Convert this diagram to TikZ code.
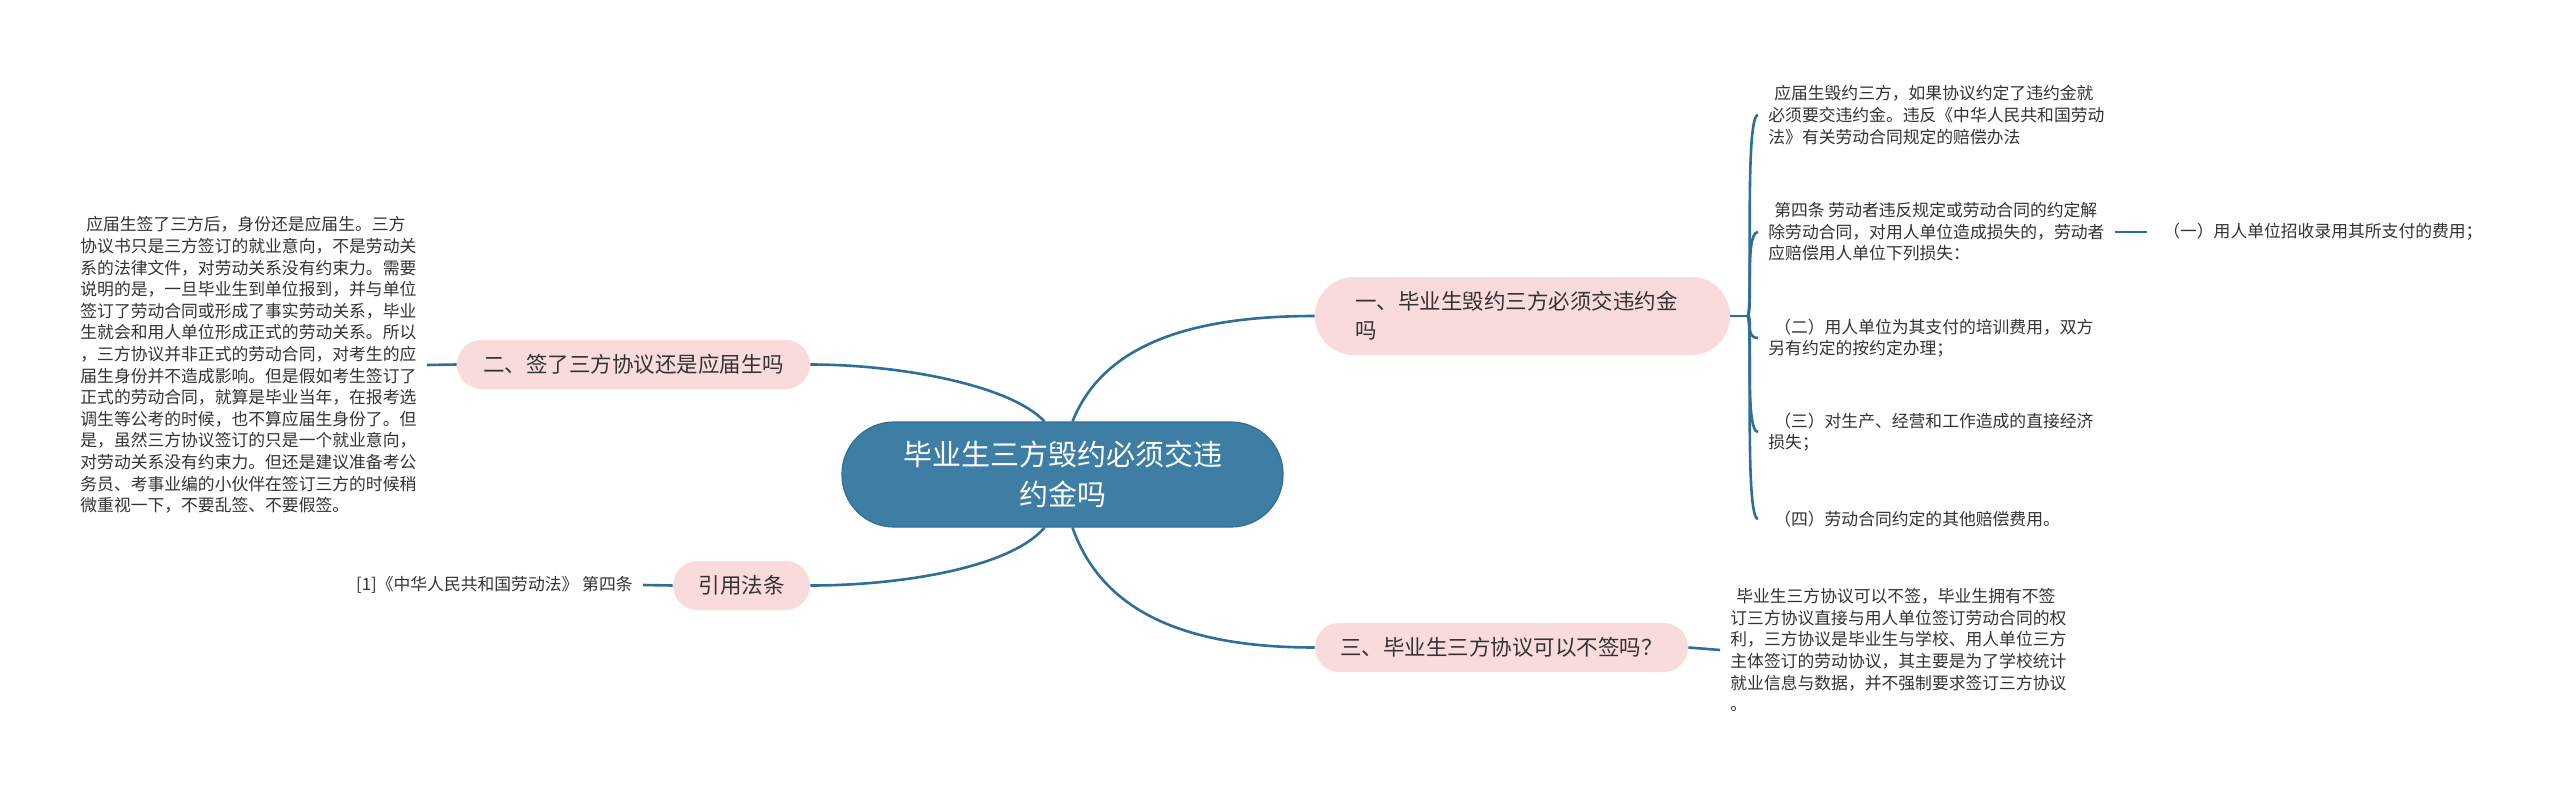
\documentclass[tikz,border=0pt]{standalone}
\usepackage{fontspec}
\setmainfont{Noto Sans CJK SC}
\usetikzlibrary{calc}
\definecolor{lineblue}{HTML}{2F6E96}
\definecolor{centerblue}{HTML}{3E7EA5}
\definecolor{pinkfill}{HTML}{FADBDB}
\definecolor{txt}{HTML}{333333}
\newcommand{\ls}{\hspace*{.35em}}
\begin{document}
\begin{tikzpicture}[x=0.5pt,y=-0.5pt,
  conn/.style={draw=lineblue, line width=1.3pt},
  centernode/.style={fill=centerblue, draw=lineblue, line width=0.6pt, rounded corners=26pt,
    minimum width=220.5pt, minimum height=52.5pt, inner sep=0pt, align=center, text=white,
    font=\fontsize{14.5pt}{20pt}\selectfont},
  branch/.style={fill=pinkfill, rounded corners=12.2pt, inner sep=0pt, minimum height=24.5pt,
    align=center, text=txt, font=\fontsize{10.75pt}{14.5pt}\selectfont},
  leaf/.style={inner xsep=5pt, inner ysep=0pt, align=left, text=txt,
    font=\fontsize{8.4pt}{10.8pt}\selectfont}
]
\useasboundingbox (0,0) rectangle (2560,793);
\fill[white] (0,0) rectangle (2560,793);

% central
\node[centernode] (c) at (1062.5,474.5) {毕业生三方毁约必须交违\\约金吗};

% branches
\node[branch, minimum width=207.5pt, minimum height=39pt, rounded corners=19.4pt,
  inner xsep=20pt, text width=167.5pt, align=left] (b1) at (1522.5,316) {一、毕业生毁约三方必须交违约金\\吗};
\node[branch, minimum width=176.5pt] (b2) at (633.5,364.5) {二、签了三方协议还是应届生吗};
\node[branch, minimum width=68.5pt] (b4) at (741.5,585.5) {引用法条};
\node[branch, minimum width=186.5pt] (b3) at (1501.5,647.5) {三、毕业生三方协议可以不签吗？};

% left leaf
\node[leaf, anchor=west] (L) at (70,365) {\ls 应届生签了三方后，身份还是应届生。三方\\
协议书只是三方签订的就业意向，不是劳动关\\
系的法律文件，对劳动关系没有约束力。需要\\
说明的是，一旦毕业生到单位报到，并与单位\\
签订了劳动合同或形成了事实劳动关系，毕业\\
生就会和用人单位形成正式的劳动关系。所以\\
，三方协议并非正式的劳动合同，对考生的应\\
届生身份并不造成影响。但是假如考生签订了\\
正式的劳动合同，就算是毕业当年，在报考选\\
调生等公考的时候，也不算应届生身份了。但\\
是，虽然三方协议签订的只是一个就业意向，\\
对劳动关系没有约束力。但还是建议准备考公\\
务员、考事业编的小伙伴在签订三方的时候稍\\
微重视一下，不要乱签、不要假签。};

\node[leaf, anchor=east] (ref) at (643,585) {[1]《中华人民共和国劳动法》 第四条};

% right leaves of branch 1
\node[leaf, anchor=west] (r1) at (1758,115) {\ls 应届生毁约三方，如果协议约定了违约金就\\
必须要交违约金。违反《中华人民共和国劳动\\
法》有关劳动合同规定的赔偿办法};
\node[leaf, anchor=west] (r2) at (1758,232) {\ls 第四条 劳动者违反规定或劳动合同的约定解\\
除劳动合同，对用人单位造成损失的，劳动者\\
应赔偿用人单位下列损失：};
\node[leaf, anchor=west] (r2a) at (2147,232) {\ls（一）用人单位招收录用其所支付的费用；};
\node[leaf, anchor=west] (r3) at (1758,338) {\ls（二）用人单位为其支付的培训费用，双方\\
另有约定的按约定办理；};
\node[leaf, anchor=west] (r4) at (1758,432) {\ls（三）对生产、经营和工作造成的直接经济\\
损失；};
\node[leaf, anchor=west] (r5) at (1758,519) {\ls（四）劳动合同约定的其他赔偿费用。};

% leaf of branch 3
\node[leaf, anchor=west] (r6) at (1720,650) {\ls 毕业生三方协议可以不签，毕业生拥有不签\\
订三方协议直接与用人单位签订劳动合同的权\\
利，三方协议是毕业生与学校、用人单位三方\\
主体签订的劳动协议，其主要是为了学校统计\\
就业信息与数据，并不强制要求签订三方协议\\
。};

% central connectors
\draw[conn] ($(c.north)+(5pt,0)$) .. controls (1105,340) and (1200,316) .. (b1.west);
\draw[conn] ($(c.north)+(-9pt,0)$) .. controls (1010,385) and (900,364.5) .. (b2.east);
\draw[conn] ($(c.south)+(-9pt,0)$) .. controls (1010,568) and (900,585.5) .. (b4.east);
\draw[conn] ($(c.south)+(5pt,0)$) .. controls (1105,620) and (1200,647.5) .. (b3.west);

% branch to leaves
\draw[conn] (L.east) -- (b2.west);
\draw[conn] (ref.east) -- (b4.west);
\draw[conn] (b3.east) -- (r6.west);
\draw[conn] (r2.east) -- (r2a.west);
\draw[conn] (b1.east) -- ++(17,0) coordinate (stem);
\foreach \t in {r1,r2,r3,r4,r5}{
  \draw[conn] (stem) .. controls +(6,0) and ($(\t.west)+(-7pt,0)$) .. (\t.west);
}
\end{tikzpicture}
\end{document}
